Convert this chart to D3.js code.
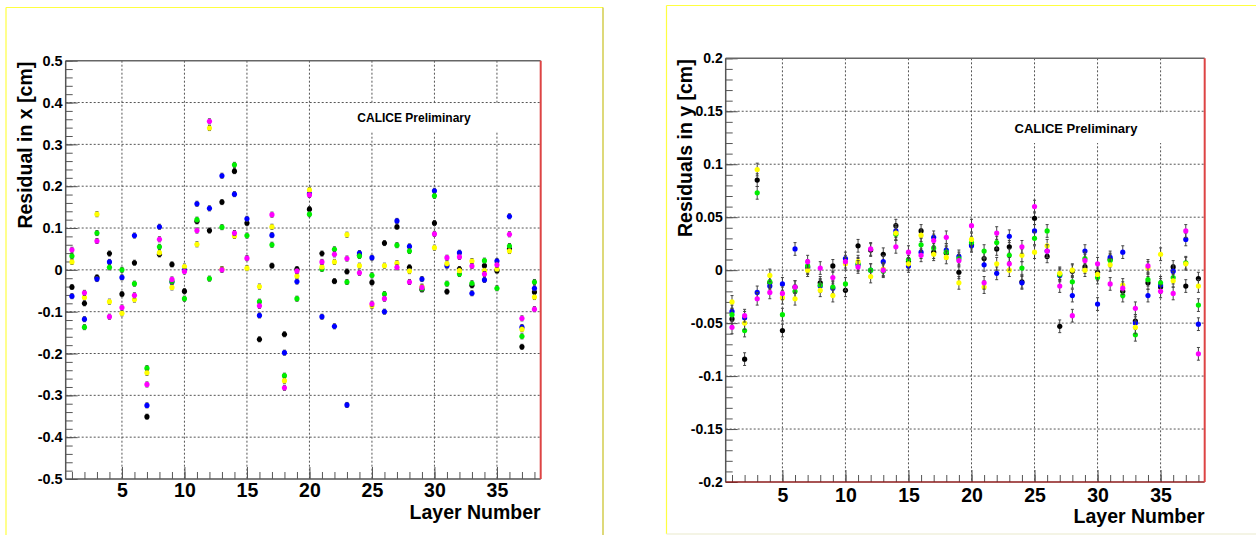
<!DOCTYPE html>
<html>
<head>
<meta charset="utf-8">
<script src="https://cdn.jsdelivr.net/npm/d3@7/dist/d3.min.js"></script>
<style>
  body { margin: 0; background: #fff; }
  text { font-family: "Liberation Sans", Arial, sans-serif; font-weight: bold; fill: #000; }
</style>
</head>
<body>
<svg id="chart" width="1256" height="535"></svg>
<script>
// layer numbers (categories)
const layers = [1,2,3,4,5,6,7,8,9,10,11,12,13,14,15,16,17,18,19,20,21,22,23,24,25,26,27,28,29,30,31,32,33,34,35,36,37,38];

// residuals in x [cm], one array per run (marker colour)
const xBlack   = [-0.041,-0.080,-0.018,0.039,-0.058,0.017,-0.351,0.037,0.013,-0.051,0.116,0.094,0.162,0.236,0.112,-0.166,0.010,-0.154,0.002,0.145,0.039,-0.027,-0.004,0.035,-0.030,0.064,0.103,0.006,-0.047,0.112,-0.052,0.002,-0.037,0.010,-0.002,0.050,-0.184,-0.053];
const xBlue    = [-0.063,-0.118,-0.022,0.019,-0.018,0.082,-0.324,0.103,-0.029,0.000,0.158,0.147,0.225,0.181,0.122,-0.109,0.083,-0.198,-0.028,0.182,-0.112,-0.135,-0.323,0.040,0.029,-0.100,0.117,0.056,-0.022,0.189,0.010,0.041,-0.056,-0.024,0.021,0.128,-0.137,-0.044];
const xGreen   = [0.033,-0.137,0.088,0.006,0.000,-0.033,-0.235,0.055,-0.027,-0.069,0.120,-0.021,0.102,0.251,0.082,-0.076,0.060,-0.253,-0.069,0.133,0.002,0.049,-0.029,0.033,-0.013,-0.058,0.059,0.045,-0.045,0.177,-0.033,-0.010,-0.032,0.022,-0.044,0.057,-0.159,-0.029];
const xYellow  = [0.019,-0.066,0.133,-0.076,-0.104,-0.071,-0.246,0.041,-0.042,0.008,0.061,0.339,0.002,0.081,0.004,-0.040,0.103,-0.265,-0.015,0.191,0.007,0.019,0.084,0.010,-0.086,0.010,0.016,-0.003,-0.040,0.053,0.015,-0.002,0.021,-0.002,0.002,0.045,-0.142,-0.065];
const xMagenta = [0.048,-0.055,0.069,-0.112,-0.090,-0.061,-0.274,0.073,-0.023,-0.004,0.094,0.355,0.000,0.088,0.028,-0.086,0.132,-0.282,-0.003,0.179,0.019,0.037,0.027,-0.007,-0.081,-0.069,0.006,-0.029,-0.042,0.086,0.029,0.031,0.009,-0.010,0.012,0.085,-0.116,-0.094];

// residuals in y [cm]
const yBlack   = [-0.046,-0.084,0.085,-0.012,-0.057,-0.016,0.003,-0.012,0.004,-0.019,0.023,0.019,0.015,0.042,0.008,0.037,0.017,0.016,-0.002,0.024,0.011,0.020,0.022,-0.011,0.049,0.013,-0.053,-0.001,0.003,-0.002,0.010,-0.020,-0.048,-0.012,-0.016,0.003,-0.015,-0.008];
const yBlue    = [-0.039,-0.045,-0.021,-0.015,-0.013,0.020,0.002,-0.015,-0.017,0.011,0.005,0.000,0.008,0.037,0.004,0.017,0.031,0.019,0.013,0.023,0.005,-0.003,0.032,-0.012,0.037,0.018,-0.005,-0.024,0.018,-0.032,0.012,0.017,-0.050,-0.024,-0.014,-0.001,0.029,-0.051];
const yGreen   = [-0.042,-0.057,0.073,-0.011,-0.042,-0.020,0.004,-0.014,-0.016,-0.013,0.006,0.000,-0.001,0.034,0.010,0.024,0.021,0.017,0.011,0.026,0.018,0.026,0.014,0.002,0.030,0.037,-0.004,-0.011,0.011,-0.007,0.009,-0.024,-0.061,-0.009,-0.012,-0.007,0.007,-0.033];
const yYellow  = [-0.030,-0.050,0.095,-0.005,-0.026,-0.027,0.000,-0.019,-0.024,0.006,0.008,-0.006,0.001,0.035,0.006,0.033,0.015,0.012,-0.012,0.029,-0.016,0.006,0.000,0.014,0.017,0.023,-0.003,0.000,0.000,-0.004,0.005,-0.014,-0.054,0.002,0.015,-0.010,0.006,-0.015];
const yMagenta = [-0.054,-0.043,-0.027,-0.021,-0.022,-0.016,0.008,0.002,-0.007,0.008,0.003,0.020,0.000,0.022,0.017,0.014,0.028,0.031,0.009,0.042,-0.012,0.035,0.006,0.022,0.060,0.018,-0.015,-0.043,0.009,0.006,-0.013,-0.017,-0.036,0.004,-0.020,-0.022,0.037,-0.079];

// tick labels
const xTickValues = [5, 10, 15, 20, 25, 30, 35];
const xTickLabels = ["5", "10", "15", "20", "25", "30", "35"];
const leftYTicks  = [-0.5, -0.4, -0.3, -0.2, -0.1, 0, 0.1, 0.2, 0.3, 0.4, 0.5];
const leftYLabels = ["-0.5", "-0.4", "-0.3", "-0.2", "-0.1", "0", "0.1", "0.2", "0.3", "0.4", "0.5"];
const rightYTicks  = [-0.2, -0.15, -0.1, -0.05, 0, 0.05, 0.1, 0.15, 0.2];
const rightYLabels = ["-0.2", "-0.15", "-0.1", "-0.05", "0", "0.05", "0.1", "0.15", "0.2"];

const colors = ["#000000", "#0000ff", "#00ee00", "#ffff00", "#ff00ff"];

const svg = d3.select("#chart");
svg.append("rect").attr("width", 1256).attr("height", 535).attr("fill", "#fff");

// pad borders (yellow frames of the canvases)
svg.append("line").attr("x1", 6).attr("y1", 7.5).attr("x2", 6).attr("y2", 535).attr("stroke", "#ffff40").attr("stroke-width", 1.2);
svg.append("line").attr("x1", 6).attr("y1", 7.5).attr("x2", 603).attr("y2", 7.5).attr("stroke", "#ffff40").attr("stroke-width", 1.2);
svg.append("line").attr("x1", 603).attr("y1", 7.5).attr("x2", 603).attr("y2", 535).attr("stroke", "#c8c020").attr("stroke-width", 1.2);
svg.append("line").attr("x1", 666.5).attr("y1", 5.5).attr("x2", 666.5).attr("y2", 534).attr("stroke", "#ffff40").attr("stroke-width", 1.2);
svg.append("line").attr("x1", 666.5).attr("y1", 5.5).attr("x2", 1256).attr("y2", 5.5).attr("stroke", "#ffff40").attr("stroke-width", 1.2);
svg.append("line").attr("x1", 666.5).attr("y1", 534).attr("x2", 1256).attr("y2", 534).attr("stroke", "#f0f0dc").attr("stroke-width", 1.5);

function drawPanel(p) {
    const x = d3.scaleLinear().domain([0.5, 38.5]).range([p.left, p.right]);
    const y = d3.scaleLinear().domain(p.yDomain).range([p.bottom, p.top]);
    const g = svg.append("g");

    // grid
    g.selectAll(".gx").data(xTickValues).enter().append("line")
        .attr("x1", d => x(d)).attr("x2", d => x(d))
        .attr("y1", p.top).attr("y2", p.bottom)
        .attr("stroke", "#555").attr("stroke-width", 1).attr("stroke-dasharray", "2,2");
    g.selectAll(".gy").data(p.yTicks.slice(1, -1)).enter().append("line")
        .attr("x1", p.left).attr("x2", p.right)
        .attr("y1", d => y(d)).attr("y2", d => y(d))
        .attr("stroke", "#555").attr("stroke-width", 1).attr("stroke-dasharray", "2,2");

    // white box behind the label
    g.append("rect").attr("x", p.box[0]).attr("y", p.box[1])
        .attr("width", p.box[2]).attr("height", p.box[3]).attr("fill", "#fff");
    g.append("text").attr("x", p.label[0]).attr("y", p.label[1])
        .attr("text-anchor", "middle").style("font-size", p.label[2] + "px")
        .text("CALICE Preliminary");

    // y axis, minor then major ticks
    const yMinor = g.append("g").attr("transform", `translate(${p.left},0)`)
        .call(d3.axisLeft(y).tickValues(d3.range(p.yDomain[0], p.yDomain[1] + 1e-9, p.yMinorStep))
            .tickSize(-7).tickSizeOuter(0).tickFormat(""));
    yMinor.select(".domain").remove();
    yMinor.selectAll("line").attr("stroke", "#555");

    const yMajor = g.append("g").attr("transform", `translate(${p.left},0)`)
        .call(d3.axisLeft(y).tickValues(p.yTicks).tickSize(-12).tickSizeOuter(0)
            .tickPadding(3).tickFormat((d, i) => p.yLabels[i]));
    yMajor.select(".domain").remove();
    yMajor.selectAll("line").attr("stroke", "#555");
    yMajor.selectAll("text").style("font-size", p.yFont + "px").attr("font-family", null);

    // x axis, ticks at every layer
    const xMinor = g.append("g").attr("transform", `translate(0,${p.bottom})`)
        .call(d3.axisBottom(x).tickValues(layers).tickSize(-7).tickSizeOuter(0).tickFormat(""));
    xMinor.select(".domain").remove();
    xMinor.selectAll("line").attr("stroke", "#555");

    const xMajor = g.append("g").attr("transform", `translate(0,${p.bottom})`)
        .call(d3.axisBottom(x).tickValues(xTickValues).tickSize(-12).tickSizeOuter(0)
            .tickFormat((d, i) => xTickLabels[i]));
    xMajor.select(".domain").remove();
    xMajor.selectAll("line").attr("stroke", "#555");
    xMajor.selectAll("text").attr("y", p.xLabelY).attr("dy", null)
        .style("font-size", "19.5px").attr("font-family", null);

    // frame
    g.append("line").attr("x1", p.left).attr("x2", p.right).attr("y1", p.top).attr("y2", p.top)
        .attr("stroke", "#666").attr("stroke-width", 1.5);
    g.append("line").attr("x1", p.left).attr("x2", p.left).attr("y1", p.top).attr("y2", p.bottom)
        .attr("stroke", "#555").attr("stroke-width", 1.5);
    g.append("line").attr("x1", p.left).attr("x2", p.right).attr("y1", p.bottom).attr("y2", p.bottom)
        .attr("stroke", p.bottomColor).attr("stroke-width", 1.5);
    g.append("line").attr("x1", p.right).attr("x2", p.right).attr("y1", p.top).attr("y2", p.bottom)
        .attr("stroke", "#dd4444").attr("stroke-width", 2);

    // points with error bars
    p.series.forEach((vals, si) => {
        const s = g.append("g");
        const pts = layers.map((l, i) => ({ l: l, v: vals[i] }));
        s.selectAll(".eb").data(pts).enter().append("line")
            .attr("x1", d => x(d.l)).attr("x2", d => x(d.l))
            .attr("y1", d => y(d.v - p.err)).attr("y2", d => y(d.v + p.err))
            .attr("stroke", "#444").attr("stroke-width", 1);
        s.selectAll(".cap").data(pts.flatMap(d => [{ l: d.l, v: d.v - p.err }, { l: d.l, v: d.v + p.err }]))
            .enter().append("line")
            .attr("x1", d => x(d.l) - 1.5).attr("x2", d => x(d.l) + 1.5)
            .attr("y1", d => y(d.v)).attr("y2", d => y(d.v))
            .attr("stroke", "#444").attr("stroke-width", 1);
        s.selectAll("circle").data(pts).enter().append("circle")
            .attr("cx", d => x(d.l)).attr("cy", d => y(d.v)).attr("r", 2.6)
            .attr("fill", colors[si]);
    });

    // axis titles
    g.append("text").attr("transform", `translate(${p.yTitleX},${p.top + 1}) rotate(-90)`)
        .attr("text-anchor", "end").style("font-size", "19.5px").text(p.yTitle);
    g.append("text").attr("x", p.right).attr("y", p.xTitleY)
        .attr("text-anchor", "end").style("font-size", "19.5px").text("Layer Number");
}

drawPanel({
    left: 65.7, right: 540.7, top: 60.7, bottom: 479,
    yDomain: [-0.5, 0.5], yTicks: leftYTicks, yLabels: leftYLabels, yMinorStep: 0.02, yFont: 14.5,
    err: 0.006, series: [xBlack, xBlue, xGreen, xYellow, xMagenta],
    box: [330, 104, 195, 27], label: [414, 121.7, 12],
    bottomColor: "#555", xLabelY: 18, xTitleY: 518.5,
    yTitle: "Residual in x [cm]", yTitleX: 32
});

drawPanel({
    left: 725.7, right: 1204.7, top: 58.3, bottom: 482,
    yDomain: [-0.2, 0.2], yTicks: rightYTicks, yLabels: rightYLabels, yMinorStep: 0.01, yFont: 14,
    err: 0.006, series: [yBlack, yBlue, yGreen, yYellow, yMagenta],
    box: [1000, 113, 195, 30], label: [1076, 133.3, 13],
    bottomColor: "#8b1a1a", xLabelY: 20, xTitleY: 522.7,
    yTitle: "Residuals in y [cm]", yTitleX: 692
});
</script>
</body>
</html>
